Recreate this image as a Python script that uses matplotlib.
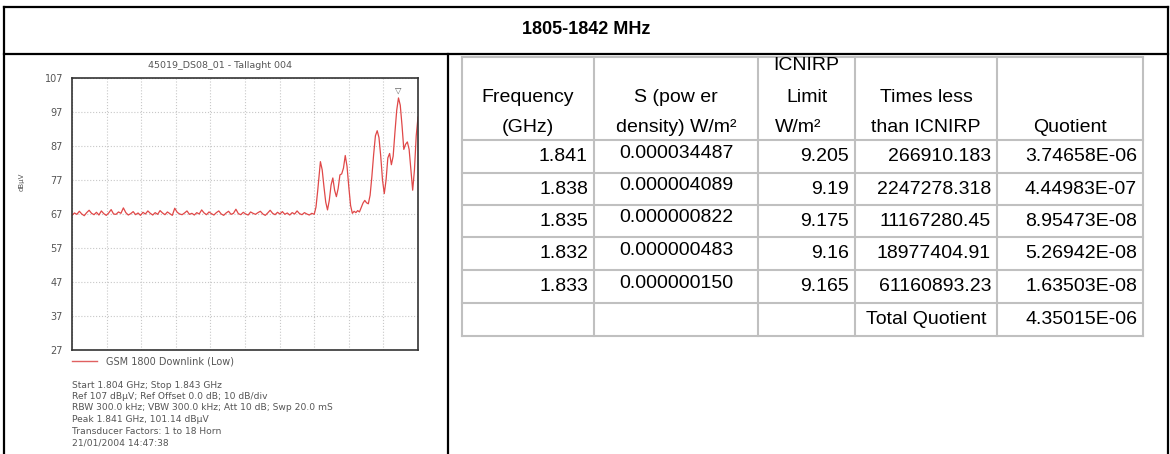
import numpy as np
import matplotlib.pyplot as plt

plt.rcParams['font.family'] = ['Liberation Sans', 'DejaVu Sans']

# ---- spectrum trace (GHz, dBuV) ----
sweep_start, sweep_stop = 1.804, 1.843
noise_end = 1.8313
noise_levels = [66.6, 67.3, 66.9, 67.8, 67.0, 66.5, 67.4, 68.1, 67.2, 66.8,
                67.5, 66.7, 67.9, 67.1, 66.6, 67.3, 68.3, 67.0, 66.9, 67.6,
                67.2, 68.8, 67.4, 66.7, 67.1, 67.7, 66.8, 67.3, 66.6, 67.5,
                67.0, 67.9, 67.2, 66.7, 67.4, 66.9, 68.0, 67.3, 66.8, 67.6,
                67.1, 66.6, 68.7, 67.5, 67.0, 66.8, 67.3, 67.9, 66.9, 67.2,
                66.7, 67.4, 67.0, 68.2, 67.3, 66.8, 67.6, 67.1, 66.7, 67.4,
                67.9, 67.0, 66.6, 67.3, 67.8, 66.9, 67.2, 68.4, 67.1, 66.8,
                67.5, 67.0, 66.7, 67.6, 67.2, 66.9, 67.4, 67.8, 67.0, 66.6,
                67.3, 68.1, 67.2, 66.8, 67.5, 67.0, 67.7, 66.9, 67.3, 66.7,
                67.4, 67.0, 67.9, 67.1, 66.8, 67.4, 67.0, 66.7, 67.2, 66.9]
peak_freqs = [1.8315, 1.8317, 1.8319, 1.8320, 1.8322, 1.8324, 1.8326, 1.8328,
              1.8330, 1.8332, 1.8334, 1.8336, 1.8338, 1.8340, 1.8342, 1.8344,
              1.8346, 1.8348, 1.8350, 1.8352, 1.8354, 1.8356, 1.8358, 1.8360,
              1.8362, 1.8364, 1.8366, 1.8368, 1.8370, 1.8372, 1.8374, 1.8376,
              1.8378, 1.8380, 1.8382, 1.8384, 1.8386, 1.8388, 1.8390, 1.8392,
              1.8394, 1.8396, 1.8398, 1.8400, 1.8402, 1.8404, 1.8406, 1.8408,
              1.8410, 1.8412, 1.8414, 1.8416, 1.8418, 1.8420, 1.8422, 1.8424,
              1.8426, 1.8428, 1.8430]
peak_levels = [69.0, 74.0, 79.5, 82.4, 80.0, 75.0, 70.5, 68.2,
               71.0, 75.5, 77.6, 74.0, 72.1, 74.5, 78.5, 78.8,
               80.5, 84.2, 81.0, 75.0, 69.5, 67.2, 67.8, 67.4,
               68.0, 67.6, 68.9, 70.2, 71.0, 70.3, 70.0, 72.5,
               78.0, 84.5, 90.0, 91.5, 89.5, 84.0, 77.0, 73.0,
               77.0, 83.5, 84.8, 81.5, 84.0, 91.0, 97.5, 101.14,
               99.0, 93.0, 86.0, 87.5, 88.2, 86.0, 80.0, 74.0,
               80.0, 90.0, 95.5]
level_ticks = [27, 37, 47, 57, 67, 77, 87, 97, 107]
marker_freq, marker_level = 1.8408, 101.14

plot_title = "45019_DS08_01 - Tallaght 004"
trace_label = "GSM 1800 Downlink (Low)"
info_lines = ["Start 1.804 GHz; Stop 1.843 GHz",
              "Ref 107 dB\u00b5V; Ref Offset 0.0 dB; 10 dB/div",
              "RBW 300.0 kHz; VBW 300.0 kHz; Att 10 dB; Swp 20.0 mS",
              "Peak 1.841 GHz, 101.14 dB\u00b5V",
              "Transducer Factors: 1 to 18 Horn",
              "21/01/2004 14:47:38"]

# ---- table ----
band_title = "1805-1842 MHz"
col_freq = ["1.841", "1.838", "1.835", "1.832", "1.833", ""]
col_power = ["0.000034487", "0.000004089", "0.000000822", "0.000000483", "0.000000150", ""]
col_limit = ["9.205", "9.19", "9.175", "9.16", "9.165", ""]
col_times = ["266910.183", "2247278.318", "11167280.45", "18977404.91", "61160893.23", "Total Quotient"]
col_quot = ["3.74658E-06", "4.44983E-07", "8.95473E-08", "5.26942E-08", "1.63503E-08", "4.35015E-06"]

W, H = 1170, 454
fig = plt.figure(figsize=(W / 100, H / 100), dpi=100)

# overlay in pixel coordinates for the frame and the table
ov = fig.add_axes([0, 0, 1, 1])
ov.set_xlim(0, W)
ov.set_ylim(H, 0)
ov.axis('off')

blk = dict(color='black', lw=1.6, solid_capstyle='projecting')
ov.plot([4, 1168], [6.5, 6.5], **blk)
ov.plot([4, 1168], [54, 54], **blk)
ov.plot([4, 4], [6.5, H], **blk)
ov.plot([1168, 1168], [6.5, H], **blk)
ov.plot([447.5, 447.5], [54, H], **blk)
ov.text(586, 29, band_title, ha='center', va='center', fontsize=13, weight='bold')

col_x = [461.5, 594, 758, 855, 997, 1143]
row_y = [57, 140, 173, 205, 237, 270, 303, 336]
grey = dict(color='#c0c0c0', lw=1.5, solid_capstyle='projecting')
for x in col_x:
    ov.plot([x, x], [row_y[0], row_y[-1]], **grey)
for y in row_y:
    ov.plot([col_x[0], col_x[-1]], [y, y], **grey)

fs = 14
centers = [(a + b) / 2 for a, b in zip(col_x[:-1], col_x[1:])]
# header
ov.text(centers[0], 98, "Frequency", ha='center', va='center', fontsize=fs)
ov.text(centers[0], 127, "(GHz)", ha='center', va='center', fontsize=fs)
ov.text(centers[1], 98, "S (pow er", ha='center', va='center', fontsize=fs)
ov.text(centers[1], 127, "density) W/m\u00b2", ha='center', va='center', fontsize=fs)
ov.text(centers[2], 66, "ICNIRP", ha='center', va='center', fontsize=fs)
ov.text(centers[2], 97, "Limit", ha='center', va='center', fontsize=fs)
ov.text(col_x[2] + 17, 127, "W/m\u00b2", ha='left', va='center', fontsize=fs)
ov.text(centers[3], 98, "Times less", ha='center', va='center', fontsize=fs)
ov.text(centers[3], 127, "than ICNIRP", ha='center', va='center', fontsize=fs)
ov.text(centers[4], 127, "Quotient", ha='center', va='center', fontsize=fs)

for i in range(len(col_quot)):
    yc = (row_y[i + 1] + row_y[i + 2]) / 2
    ov.text(col_x[1] - 6, yc, col_freq[i], ha='right', va='center', fontsize=fs)
    ov.text(centers[1], yc - 3, col_power[i], ha='center', va='center', fontsize=fs)
    ov.text(col_x[3] - 6, yc, col_limit[i], ha='right', va='center', fontsize=fs)
    if col_times[i] == "Total Quotient":
        ov.text(centers[3], yc, col_times[i], ha='center', va='center', fontsize=fs)
    else:
        ov.text(col_x[4] - 6, yc, col_times[i], ha='right', va='center', fontsize=fs)
    ov.text(col_x[5] - 6, yc, col_quot[i], ha='right', va='center', fontsize=fs)

# spectrum texts
sfont = dict(family='DejaVu Sans', color='#555555')
ov.text(220, 65, plot_title, ha='center', va='center', fontsize=6.8, **sfont)
ov.plot([72, 97], [361, 361], color='#e06060', lw=1.0)
ov.text(106, 361, trace_label, ha='left', va='center', fontsize=7, **sfont)
for k, line in enumerate(info_lines):
    ov.text(72, 385 + k * 11.5, line, ha='left', va='center', fontsize=6.6, **sfont)
ov.text(22, 182, "dB\u00b5V", rotation=90, ha='center', va='center', fontsize=5, **sfont)

# spectrum axes
ax = fig.add_axes([72 / W, 1 - 350 / H, 346 / W, 272 / H])
noise_freqs = np.linspace(sweep_start, noise_end, len(noise_levels))
freqs = np.concatenate([noise_freqs, peak_freqs])
levels = np.concatenate([noise_levels, peak_levels])
ax.plot(freqs, levels, color='#e04848', lw=0.9)
ax.annotate("\u25bd", xy=(marker_freq, marker_level), xytext=(0, 2),
            textcoords='offset points', ha='center', va='bottom',
            fontsize=6, color='#555555', family='DejaVu Sans')
ax.set_xlim(sweep_start, sweep_stop)
ax.set_ylim(level_ticks[0], level_ticks[-1])
ax.set_xticks(np.linspace(sweep_start, sweep_stop, 11))
ax.set_xticklabels([])
ax.set_yticks(level_ticks)
ax.set_yticklabels([str(v) for v in level_ticks], fontsize=7, color='#555555',
                   family='DejaVu Sans')
ax.tick_params(length=0, pad=6.5)
ax.grid(True, color='#c8c8c8', linestyle=':', lw=0.8)
for s in ax.spines.values():
    s.set_color('#333333')
    s.set_linewidth(1.2)

fig.savefig('out.png', dpi=100)
